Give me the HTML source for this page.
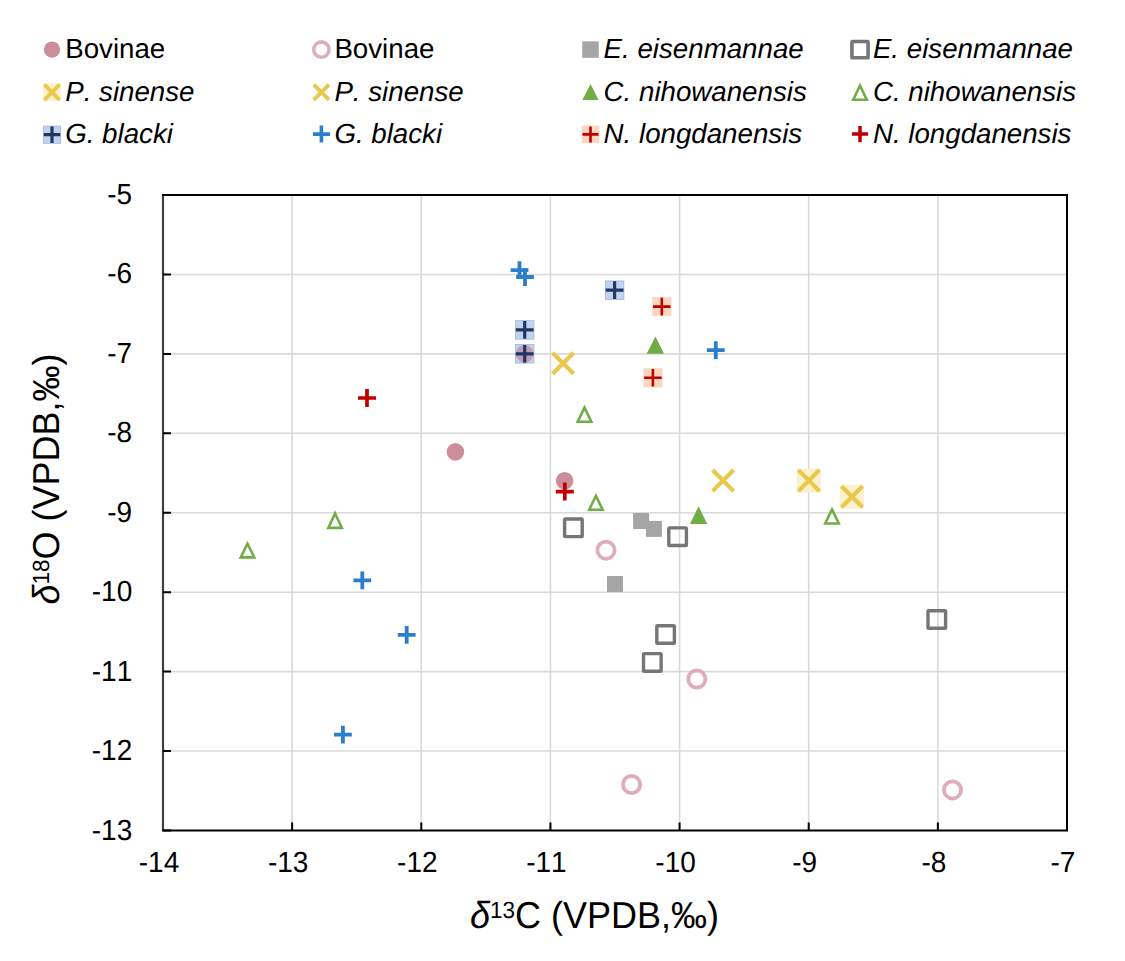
<!DOCTYPE html>
<html><head><meta charset="utf-8"><style>
html,body{margin:0;padding:0;background:#fff;width:1125px;height:961px;overflow:hidden}
text{font-kerning:none;font-feature-settings:"kern" 0;text-rendering:geometricPrecision}
</style></head><body>
<svg width="1125" height="961" viewBox="0 0 1125 961" style="display:block">
<rect width="1125" height="961" fill="#fff"/>
<path d="M292.14 195V830.5M421.29 195V830.5M550.43 195V830.5M679.57 195V830.5M808.71 195V830.5M937.86 195V830.5M163 751.06H1067M163 671.62H1067M163 592.19H1067M163 512.75H1067M163 433.31H1067M163 353.88H1067M163 274.44H1067" stroke="#d9d9d9" stroke-width="1.6" fill="none"/>
<circle cx="455.4" cy="451.9" r="8.8" fill="#cc8e98"/>
<circle cx="564.6" cy="480.7" r="8.8" fill="#cc8e98"/>
<circle cx="606" cy="550.2" r="8.6" fill="none" stroke="#ddaeb8" stroke-width="3.8"/>
<circle cx="696.8" cy="679" r="8.6" fill="none" stroke="#ddaeb8" stroke-width="3.8"/>
<circle cx="631.6" cy="784.5" r="8.6" fill="none" stroke="#ddaeb8" stroke-width="3.8"/>
<circle cx="952.5" cy="789.9" r="8.6" fill="none" stroke="#ddaeb8" stroke-width="3.8"/>
<rect x="633.1" y="513.0" width="16" height="16" fill="#a5a5a5"/>
<rect x="645.9" y="520.9" width="16" height="16" fill="#a5a5a5"/>
<rect x="607.0" y="576.0" width="16" height="16" fill="#a5a5a5"/>
<rect x="564.6" y="519.0" width="17.6" height="17.6" rx="0.8" fill="none" stroke="#767676" stroke-width="3.4"/>
<rect x="668.8000000000001" y="527.9000000000001" width="17.6" height="17.6" rx="0.8" fill="none" stroke="#767676" stroke-width="3.4"/>
<rect x="656.8000000000001" y="625.7" width="17.6" height="17.6" rx="0.8" fill="none" stroke="#767676" stroke-width="3.4"/>
<rect x="643.5" y="653.6" width="17.6" height="17.6" rx="0.8" fill="none" stroke="#767676" stroke-width="3.4"/>
<rect x="928.0" y="610.7" width="17.6" height="17.6" rx="0.8" fill="none" stroke="#767676" stroke-width="3.4"/>
<path d="M552.59 352.79L573.61 373.81M573.61 352.79L552.59 373.81" stroke="#e9c84c" stroke-width="4.2" stroke-linecap="butt" fill="none"/>
<path d="M712.59 470.09L733.61 491.11M733.61 470.09L712.59 491.11" stroke="#e9c84c" stroke-width="4.2" stroke-linecap="butt" fill="none"/>
<rect x="796.9" y="468.6" width="24" height="24" fill="#fdf0cc"/>
<path d="M798.39 470.09L819.41 491.11M819.41 470.09L798.39 491.11" stroke="#e9c84c" stroke-width="4.2" stroke-linecap="butt" fill="none"/>
<rect x="840.0" y="484.8" width="24" height="24" fill="#fdf0cc"/>
<path d="M841.49 486.29L862.51 507.31M862.51 486.29L841.49 507.31" stroke="#e9c84c" stroke-width="4.2" stroke-linecap="butt" fill="none"/>
<path d="M655.4 336.5L664.1 353.8L646.6999999999999 353.8Z" fill="#70ad47"/>
<path d="M698.6 506.3L707.3000000000001 523.9L689.9 523.9Z" fill="#70ad47"/>
<path d="M584.5 407.63L591.28 421.8L577.72 421.8Z" fill="none" stroke="#70ad47" stroke-width="2.6" stroke-linejoin="miter"/>
<path d="M595.9 495.93L602.68 509.8L589.12 509.8Z" fill="none" stroke="#70ad47" stroke-width="2.6" stroke-linejoin="miter"/>
<path d="M832 509.43L838.78 523.5L825.22 523.5Z" fill="none" stroke="#70ad47" stroke-width="2.6" stroke-linejoin="miter"/>
<path d="M247.5 543.73L254.28 557.4000000000001L240.72 557.4000000000001Z" fill="none" stroke="#70ad47" stroke-width="2.6" stroke-linejoin="miter"/>
<path d="M335.1 513.43L341.88 527.9000000000001L328.32000000000005 527.9000000000001Z" fill="none" stroke="#70ad47" stroke-width="2.6" stroke-linejoin="miter"/>
<rect x="605.35" y="280.95" width="18.5" height="18.5" fill="#c3d3ee" stroke="#9db5e0" stroke-width="0.8"/>
<path d="M605.7 290.2H623.5M614.6 281.3V299.09999999999997" stroke="#1f3864" stroke-width="3.2" fill="none"/>
<rect x="515.45" y="320.65" width="18.5" height="18.5" fill="#c3d3ee" stroke="#9db5e0" stroke-width="0.8"/>
<path d="M515.8000000000001 329.9H533.6M524.7 321.0V338.79999999999995" stroke="#1f3864" stroke-width="3.2" fill="none"/>
<rect x="515.45" y="344.55" width="18.5" height="18.5" fill="#c3d3ee" stroke="#9db5e0" stroke-width="0.8"/>
<circle cx="524.7" cy="353.8" r="8.8" fill="#c39cb6"/>
<path d="M515.8000000000001 353.8H533.6M524.7 344.90000000000003V362.7" stroke="#1f3864" stroke-width="3.2" fill="none"/>
<path d="M510.6 270.2H528.4M519.5 261.3V279.09999999999997" stroke="#2a7ecb" stroke-width="3.8" fill="none"/>
<path d="M516.1 277H533.9M525 268.1V285.9" stroke="#2a7ecb" stroke-width="3.8" fill="none"/>
<path d="M706.9 350.2H724.6999999999999M715.8 341.3V359.09999999999997" stroke="#2a7ecb" stroke-width="3.8" fill="none"/>
<path d="M353.40000000000003 580.4H371.2M362.3 571.5V589.3" stroke="#2a7ecb" stroke-width="3.8" fill="none"/>
<path d="M397.8 634.9H415.59999999999997M406.7 626.0V643.8" stroke="#2a7ecb" stroke-width="3.8" fill="none"/>
<path d="M334.0 734.7H351.79999999999995M342.9 725.8000000000001V743.6" stroke="#2a7ecb" stroke-width="3.8" fill="none"/>
<rect x="652.25" y="297.05" width="19.1" height="19.1" fill="#f9d6bf"/>
<path d="M653.0 306.6H670.5999999999999M661.8 297.8V315.40000000000003" stroke="#c00000" stroke-width="2.6" fill="none"/>
<rect x="643.35" y="368.25" width="19.1" height="19.1" fill="#f9d6bf"/>
<path d="M644.1 377.8H661.6999999999999M652.9 369.0V386.6" stroke="#c00000" stroke-width="2.6" fill="none"/>
<path d="M358.0 398H376.0M367 389.0V407.0" stroke="#c00000" stroke-width="3.7" fill="none"/>
<path d="M555.8 491.6H573.8M564.8 482.6V500.6" stroke="#c00000" stroke-width="3.7" fill="none"/>
<path d="M163 195V830.5" stroke="#404040" stroke-width="2.2" fill="none"/>
<path d="M162 195H1067V830.5H162" stroke="#000" stroke-width="2" fill="none" stroke-linejoin="miter"/>
<path d="M163 830.50H171M163 751.06H171M163 671.62H171M163 592.19H171M163 512.75H171M163 433.31H171M163 353.88H171M163 274.44H171M163 195.00H171M292.14 830.5V822.5M421.29 830.5V822.5M550.43 830.5V822.5M679.57 830.5V822.5M808.71 830.5V822.5M937.86 830.5V822.5M1067.00 830.5V822.5" stroke="#000" stroke-width="2" fill="none"/>
<g font-family='"Liberation Sans", sans-serif' font-size="28" fill="#000">
<text transform="translate(132.2 839.50) scale(1 1.041)" text-anchor="end">-13</text>
<text transform="translate(132.2 760.06) scale(1 1.041)" text-anchor="end">-12</text>
<text transform="translate(132.2 680.62) scale(1 1.041)" text-anchor="end">-11</text>
<text transform="translate(132.2 601.19) scale(1 1.041)" text-anchor="end">-10</text>
<text transform="translate(132.2 521.75) scale(1 1.041)" text-anchor="end">-9</text>
<text transform="translate(132.2 442.31) scale(1 1.041)" text-anchor="end">-8</text>
<text transform="translate(132.2 362.88) scale(1 1.041)" text-anchor="end">-7</text>
<text transform="translate(132.2 283.44) scale(1 1.041)" text-anchor="end">-6</text>
<text transform="translate(132.2 204.00) scale(1 1.041)" text-anchor="end">-5</text>
<text transform="translate(159.00 872) scale(1 1.041)" text-anchor="middle">-14</text>
<text transform="translate(288.14 872) scale(1 1.041)" text-anchor="middle">-13</text>
<text transform="translate(417.29 872) scale(1 1.041)" text-anchor="middle">-12</text>
<text transform="translate(546.43 872) scale(1 1.041)" text-anchor="middle">-11</text>
<text transform="translate(675.57 872) scale(1 1.041)" text-anchor="middle">-10</text>
<text transform="translate(804.71 872) scale(1 1.041)" text-anchor="middle">-9</text>
<text transform="translate(933.86 872) scale(1 1.041)" text-anchor="middle">-8</text>
<text transform="translate(1063.00 872) scale(1 1.041)" text-anchor="middle">-7</text>
</g>
<text transform="translate(594.5 928) scale(1 1.041)" text-anchor="middle" font-family='"Liberation Sans", sans-serif' font-size="36"><tspan font-style="italic">δ</tspan><tspan font-size="22.5" dy="-10">13</tspan><tspan dy="10">C (VPDB,‰)</tspan></text>
<text transform="translate(59.4 479) rotate(-90) scale(1 1.041)" text-anchor="middle" font-family='"Liberation Sans", sans-serif' font-size="36"><tspan font-style="italic">δ</tspan><tspan font-size="22.5" dy="-10">18</tspan><tspan dy="10">O (VPDB,‰)</tspan></text>
<circle cx="52" cy="49.6" r="8.125" fill="#cc8e98"/>
<circle cx="321.4" cy="49.6" r="7.7" fill="none" stroke="#ddaeb8" stroke-width="3.6"/>
<rect x="582.25" y="41.35" width="16.5" height="16.5" fill="#a5a5a5"/>
<rect x="851.925" y="41.525000000000006" width="16.15" height="16.15" rx="0.8" fill="none" stroke="#767676" stroke-width="3.6"/>
<rect x="43.0" y="83.2" width="18" height="18" fill="#fdf0cc"/>
<path d="M44.41 84.61L59.59 99.79M59.59 84.61L44.41 99.79" stroke="#e9c84c" stroke-width="4" stroke-linecap="butt" fill="none"/>
<path d="M313.81 84.61L328.99 99.79M328.99 84.61L313.81 99.79" stroke="#e9c84c" stroke-width="4" stroke-linecap="butt" fill="none"/>
<path d="M590.5 84L598.625 100L582.375 100Z" fill="#70ad47"/>
<path d="M860 85.48L866.73 99.7L853.27 99.7Z" fill="none" stroke="#70ad47" stroke-width="2.6" stroke-linejoin="miter"/>
<rect x="43.4" y="126.1" width="17.2" height="17.2" fill="#c3d3ee" stroke="#9db5e0" stroke-width="0.8"/>
<path d="M43.75 134.7H60.25M52 126.44999999999999V142.95" stroke="#1f3864" stroke-width="3.2" fill="none"/>
<path d="M312.9 134.1H329.9M321.4 125.6V142.6" stroke="#2a7ecb" stroke-width="3.6" fill="none"/>
<rect x="581.75" y="125.65" width="17.5" height="17.5" fill="#f9d6bf"/>
<path d="M582.5 134.4H598.5M590.5 126.4V142.4" stroke="#c00000" stroke-width="2.6" fill="none"/>
<path d="M851.875 134.1H868.125M860 125.975V142.225" stroke="#c00000" stroke-width="3.5" fill="none"/>
<g font-family='"Liberation Sans", sans-serif' font-size="27.7" fill="#000">
<text transform="translate(65.2 58.4)">Bovinae</text>
<text transform="translate(334.4 58.4)">Bovinae</text>
<text transform="translate(603.6 58.4)" font-style="italic">E. eisenmannae</text>
<text transform="translate(872.9 58.4)" font-style="italic">E. eisenmannae</text>
<text transform="translate(65.2 100.7)" font-style="italic">P. sinense</text>
<text transform="translate(334.4 100.7)" font-style="italic">P. sinense</text>
<text transform="translate(603.6 100.7)" font-style="italic">C. nihowanensis</text>
<text transform="translate(872.9 100.7)" font-style="italic">C. nihowanensis</text>
<text transform="translate(65.2 142.5)" font-style="italic">G. blacki</text>
<text transform="translate(334.4 142.5)" font-style="italic">G. blacki</text>
<text transform="translate(603.6 142.5)" font-style="italic">N. longdanensis</text>
<text transform="translate(872.9 142.5)" font-style="italic">N. longdanensis</text>
</g>
</svg>
</body></html>
